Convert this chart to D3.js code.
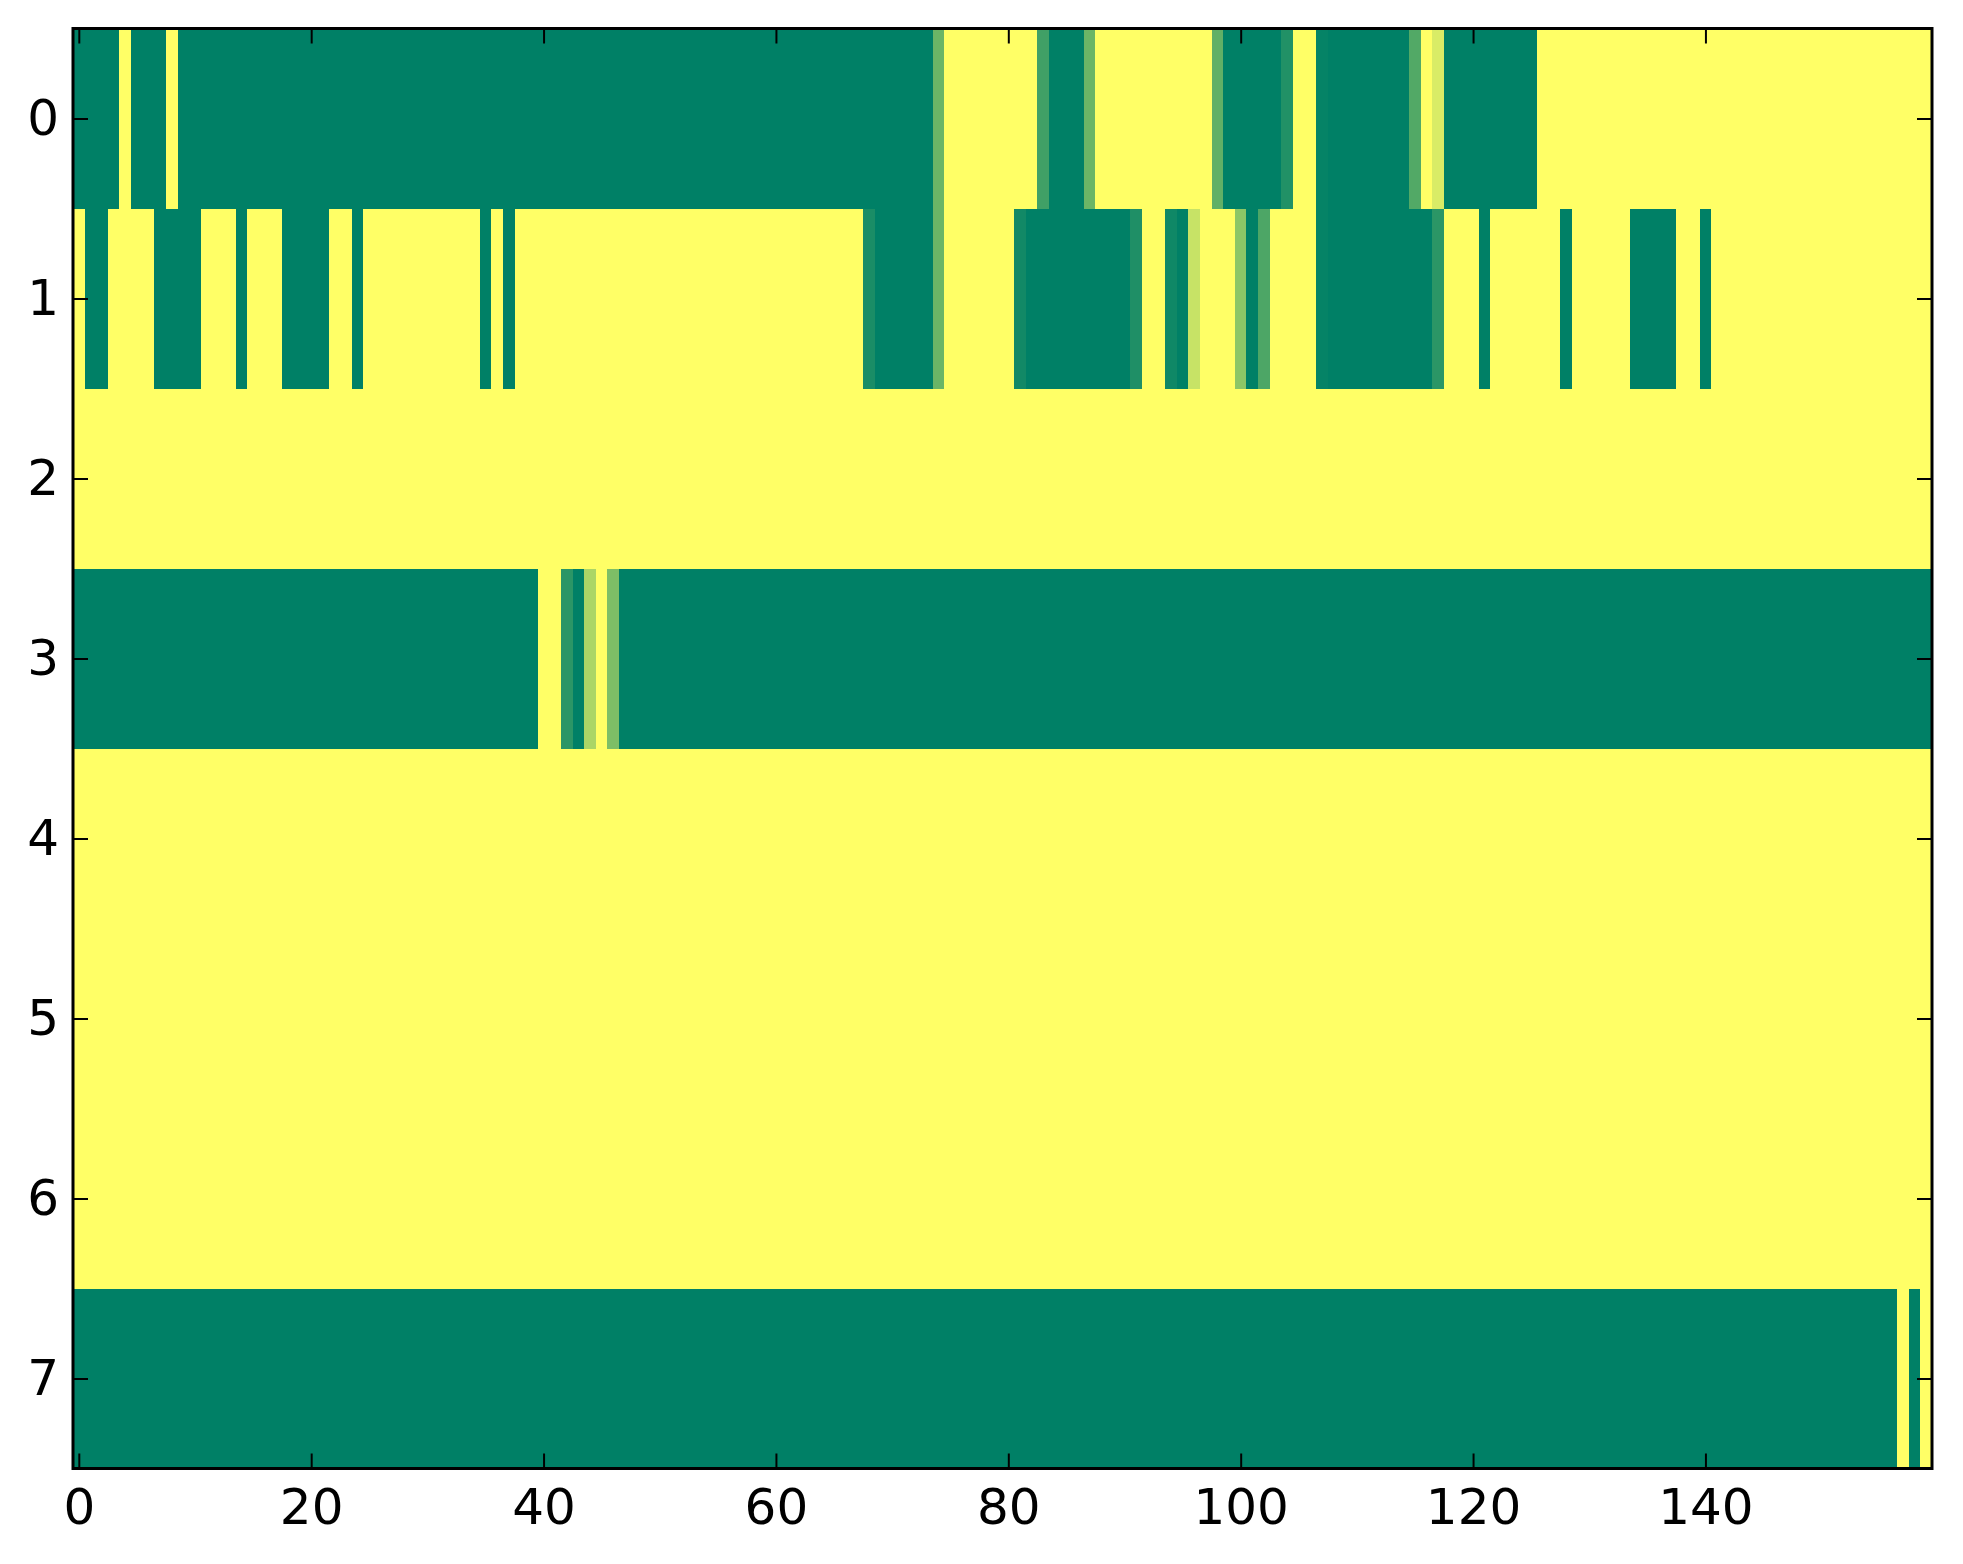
<!DOCTYPE html>
<html>
<head>
<meta charset="utf-8">
<script src="https://cdn.jsdelivr.net/npm/d3@7"></script>
<style>
  html, body { margin: 0; padding: 0; background: #ffffff; }
  svg { display: block; }
</style>
</head>
<body>
<div id="chart"></div>
<script>
// ---- data: values (0 = green, 1 = yellow, summer colormap) ----
const rowLabels = [0, 1, 2, 3, 4, 5, 6, 7];
const xTicks = [0, 20, 40, 60, 80, 100, 120, 140];
const yTicks = [0, 1, 2, 3, 4, 5, 6, 7];

const row0 = [
  0,0,0,0,1,0,0,0,1,0,0,0,0,0,0,0,0,0,0,0,
  0,0,0,0,0,0,0,0,0,0,0,0,0,0,0,0,0,0,0,0,
  0,0,0,0,0,0,0,0,0,0,0,0,0,0,0,0,0,0,0,0,
  0,0,0,0,0,0,0,0,0,0,0,0,0,0,0.42,1,1,1,1,1,
  1,1,1,0.25,0,0,0,0.42,1,1,1,1,1,1,1,1,1,1,0.38,0,
  0,0,0,0,0.13,1,1,0.02,0,0,0,0,0,0,0,0.32,1,0.85,0,0,
  0,0,0,0,0,0,1,1,1,1,1,1,1,1,1,1,1,1,1,1,
  1,1,1,1,1,1,1,1,1,1,1,1,1,1,1,1,1,1,1,1
];
const row1 = [
  1,0,0,1,1,1,1,0,0,0,0,1,1,1,0,1,1,1,0,0,
  0,0,1,1,0,1,1,1,1,1,1,1,1,1,1,0,1,0,1,1,
  1,1,1,1,1,1,1,1,1,1,1,1,1,1,1,1,1,1,1,1,
  1,1,1,1,1,1,1,1,0.1,0,0,0,0,0,0.42,1,1,1,1,1,
  1,0.07,0,0,0,0,0,0,0,0,0,0.12,1,1,0.06,0,0.78,1,1,1,
  0.55,0,0.3,1,1,1,1,0.02,0,0,0,0,0,0,0,0,0,0.17,1,1,
  1,0,1,1,1,1,1,1,0,1,1,1,1,1,0,0,0,0,1,1,
  0,1,1,1,1,1,1,1,1,1,1,1,1,1,1,1,1,1,1,1
];
const row2 = [
  1,1,1,1,1,1,1,1,1,1,1,1,1,1,1,1,1,1,1,1,
  1,1,1,1,1,1,1,1,1,1,1,1,1,1,1,1,1,1,1,1,
  1,1,1,1,1,1,1,1,1,1,1,1,1,1,1,1,1,1,1,1,
  1,1,1,1,1,1,1,1,1,1,1,1,1,1,1,1,1,1,1,1,
  1,1,1,1,1,1,1,1,1,1,1,1,1,1,1,1,1,1,1,1,
  1,1,1,1,1,1,1,1,1,1,1,1,1,1,1,1,1,1,1,1,
  1,1,1,1,1,1,1,1,1,1,1,1,1,1,1,1,1,1,1,1,
  1,1,1,1,1,1,1,1,1,1,1,1,1,1,1,1,1,1,1,1
];
const row3 = [
  0,0,0,0,0,0,0,0,0,0,0,0,0,0,0,0,0,0,0,0,
  0,0,0,0,0,0,0,0,0,0,0,0,0,0,0,0,0,0,0,0,
  1,1,0.17,0,0.67,1,0.49,0,0,0,0,0,0,0,0,0,0,0,0,0,
  0,0,0,0,0,0,0,0,0,0,0,0,0,0,0,0,0,0,0,0,
  0,0,0,0,0,0,0,0,0,0,0,0,0,0,0,0,0,0,0,0,
  0,0,0,0,0,0,0,0,0,0,0,0,0,0,0,0,0,0,0,0,
  0,0,0,0,0,0,0,0,0,0,0,0,0,0,0,0,0,0,0,0,
  0,0,0,0,0,0,0,0,0,0,0,0,0,0,0,0,0,0,0,0
];
const row4 = row2.slice();
const row5 = row2.slice();
const row6 = row2.slice();
const row7 = [
  0,0,0,0,0,0,0,0,0,0,0,0,0,0,0,0,0,0,0,0,
  0,0,0,0,0,0,0,0,0,0,0,0,0,0,0,0,0,0,0,0,
  0,0,0,0,0,0,0,0,0,0,0,0,0,0,0,0,0,0,0,0,
  0,0,0,0,0,0,0,0,0,0,0,0,0,0,0,0,0,0,0,0,
  0,0,0,0,0,0,0,0,0,0,0,0,0,0,0,0,0,0,0,0,
  0,0,0,0,0,0,0,0,0,0,0,0,0,0,0,0,0,0,0,0,
  0,0,0,0,0,0,0,0,0,0,0,0,0,0,0,0,0,0,0,0,
  0,0,0,0,0,0,0,0,0,0,0,0,0,0,0,0,0,1,0,1
];
const rows = [row0, row1, row2, row3, row4, row5, row6, row7];

// ---- layout ----
const W = 1963, H = 1564;
const plot = { left: 73, right: 1932, top: 28.5, bottom: 1468.5 };
const nCols = row0.length;

const svg = d3.select("#chart").append("svg")
  .attr("width", W).attr("height", H)
  .style("background", "#ffffff");

const x = d3.scaleLinear().domain([-0.5, nCols - 0.5]).range([plot.left, plot.right]);
const y = d3.scaleLinear().domain([-0.5, rows.length - 0.5]).range([plot.top, plot.bottom]);

// matplotlib "summer": (v, 0.5 + v/2, 0.4) — linear in RGB
const color = d3.scaleLinear().domain([0, 1]).range(["#008066", "#ffff66"])
  .interpolate(d3.interpolateRgb);

const cells = [];
rows.forEach((r, ri) => r.forEach((v, ci) => cells.push({ r: ri, c: ci, v })));

svg.append("g").attr("class", "cells")
  .selectAll("rect").data(cells).join("rect")
  .attr("x", d => x(d.c - 0.5))
  .attr("y", d => y(d.r - 0.5))
  .attr("width", d => x(d.c + 0.5) - x(d.c - 0.5) + 0.6)
  .attr("height", d => y(d.r + 0.5) - y(d.r - 0.5) + 0.6)
  .attr("fill", d => color(d.v))
  .attr("shape-rendering", "crispEdges");

// ---- axes (ticks inside on all four sides) ----
const fontFamily = "'DejaVu Sans', sans-serif";
const tickLen = 15;

function styleAxis(g) {
  g.select(".domain").remove();
  g.selectAll(".tick line").attr("stroke", "#000").attr("stroke-width", 2);
  g.selectAll(".tick text")
    .attr("fill", "#000")
    .style("font-family", fontFamily)
    .style("font-size", "50px");
}

svg.append("g").attr("transform", `translate(0,${plot.bottom})`)
  .call(d3.axisBottom(x).tickValues(xTicks).tickSize(-tickLen).tickPadding(20).tickFormat(d3.format("d")))
  .call(styleAxis);

svg.append("g").attr("transform", `translate(0,${plot.top})`)
  .call(d3.axisTop(x).tickValues(xTicks).tickSize(-tickLen).tickFormat(""))
  .call(styleAxis);

svg.append("g").attr("transform", `translate(${plot.left},0)`)
  .call(d3.axisLeft(y).tickValues(yTicks).tickSize(-tickLen).tickPadding(14).tickFormat((d, i) => rowLabels[i]))
  .call(styleAxis);

svg.append("g").attr("transform", `translate(${plot.right},0)`)
  .call(d3.axisRight(y).tickValues(yTicks).tickSize(-tickLen).tickFormat(""))
  .call(styleAxis);

// spines
svg.append("rect")
  .attr("x", plot.left).attr("y", plot.top)
  .attr("width", plot.right - plot.left).attr("height", plot.bottom - plot.top)
  .attr("fill", "none").attr("stroke", "#000").attr("stroke-width", 3);
</script>
</body>
</html>
